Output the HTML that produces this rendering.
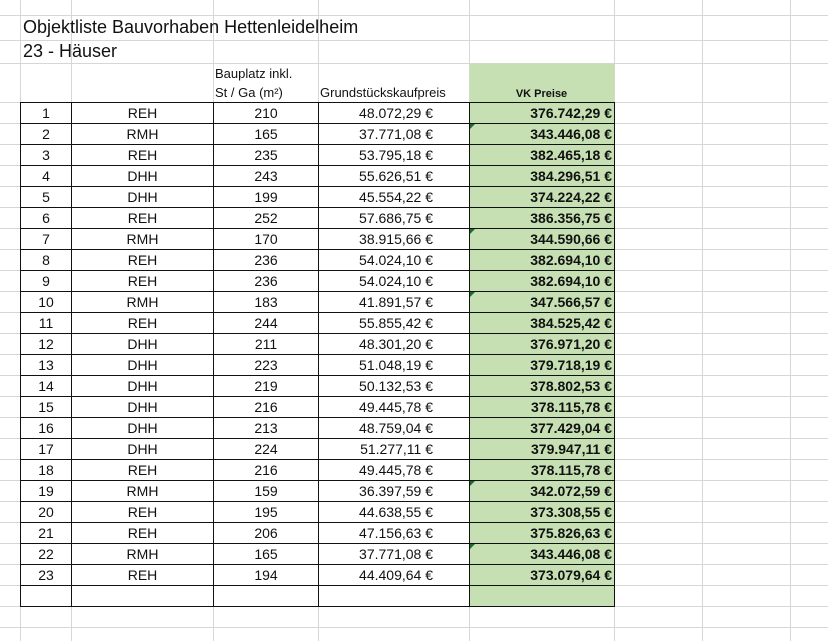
<!DOCTYPE html>
<html><head><meta charset="utf-8"><style>
html,body{margin:0;padding:0;width:828px;height:641px;overflow:hidden;background:#fff;font-family:"Liberation Sans",Arial,sans-serif;color:#111}
svg.grid{position:absolute;left:0;top:0}
.t{position:absolute;white-space:nowrap}
table{position:absolute;left:20px;top:102px;border-collapse:collapse;table-layout:fixed;font-size:14px}
td{border:1px solid #111;height:20px;padding:0;line-height:20px;overflow:hidden;white-space:nowrap}
td.c{text-align:center}
td.r{text-align:right;padding-right:36px}
td.v{text-align:right;padding-right:2px;background:#c6e0b4;font-weight:bold;position:relative}
td.v.m::before{content:"";position:absolute;left:0;top:0;border-top:5px solid #1d6b2e;border-right:5px solid transparent}
</style></head><body>
<svg class="grid" width="828" height="641">
<g stroke="#d6d6d6" stroke-width="1">
<line x1="0" y1="15.5" x2="828" y2="15.5"/><line x1="0" y1="40.5" x2="828" y2="40.5"/><line x1="0" y1="63.5" x2="828" y2="63.5"/>
<line x1="0" y1="627.5" x2="828" y2="627.5"/>
<line x1="20.5" y1="0" x2="20.5" y2="641"/><line x1="71.5" y1="0" x2="71.5" y2="641"/><line x1="213.5" y1="0" x2="213.5" y2="641"/><line x1="318.5" y1="0" x2="318.5" y2="641"/><line x1="469.5" y1="0" x2="469.5" y2="641"/><line x1="614.5" y1="0" x2="614.5" y2="641"/><line x1="702.5" y1="0" x2="702.5" y2="641"/><line x1="790.5" y1="0" x2="790.5" y2="641"/>
</g>
<g stroke="#d6d6d6">
<line x1="0" y1="102.5" x2="828" y2="102.5"/><line x1="0" y1="123.5" x2="828" y2="123.5"/><line x1="0" y1="144.5" x2="828" y2="144.5"/><line x1="0" y1="165.5" x2="828" y2="165.5"/><line x1="0" y1="186.5" x2="828" y2="186.5"/><line x1="0" y1="207.5" x2="828" y2="207.5"/><line x1="0" y1="228.5" x2="828" y2="228.5"/><line x1="0" y1="249.5" x2="828" y2="249.5"/><line x1="0" y1="270.5" x2="828" y2="270.5"/><line x1="0" y1="291.5" x2="828" y2="291.5"/><line x1="0" y1="312.5" x2="828" y2="312.5"/><line x1="0" y1="333.5" x2="828" y2="333.5"/><line x1="0" y1="354.5" x2="828" y2="354.5"/><line x1="0" y1="375.5" x2="828" y2="375.5"/><line x1="0" y1="396.5" x2="828" y2="396.5"/><line x1="0" y1="417.5" x2="828" y2="417.5"/><line x1="0" y1="438.5" x2="828" y2="438.5"/><line x1="0" y1="459.5" x2="828" y2="459.5"/><line x1="0" y1="480.5" x2="828" y2="480.5"/><line x1="0" y1="501.5" x2="828" y2="501.5"/><line x1="0" y1="522.5" x2="828" y2="522.5"/><line x1="0" y1="543.5" x2="828" y2="543.5"/><line x1="0" y1="564.5" x2="828" y2="564.5"/><line x1="0" y1="585.5" x2="828" y2="585.5"/><line x1="0" y1="606.5" x2="828" y2="606.5"/>
</g>
<rect x="469.5" y="63.5" width="145" height="39" fill="#c6e0b4"/>
</svg>
<div class="t" style="left:23px;top:17px;font-size:18px">Objektliste Bauvorhaben Hettenleidelheim</div>
<div class="t" style="left:23px;top:41px;font-size:18px">23 - Häuser</div>
<div class="t" style="left:215px;top:66px;font-size:13px">Bauplatz inkl.</div>
<div class="t" style="left:215px;top:85px;font-size:13px">St / Ga (m²)</div>
<div class="t" style="left:320px;top:85px;font-size:13px">Grundstückskaufpreis</div>
<div class="t" style="left:469px;width:145px;text-align:center;top:88px;font-size:11px;font-weight:bold">VK Preise</div>
<table>
<colgroup><col style="width:51px"><col style="width:142px"><col style="width:105px"><col style="width:151px"><col style="width:145px"></colgroup>
<tr><td class="c">1</td><td class="c">REH</td><td class="c">210</td><td class="r">48.072,29 €</td><td class="v">376.742,29 €</td></tr>
<tr><td class="c">2</td><td class="c">RMH</td><td class="c">165</td><td class="r">37.771,08 €</td><td class="v m">343.446,08 €</td></tr>
<tr><td class="c">3</td><td class="c">REH</td><td class="c">235</td><td class="r">53.795,18 €</td><td class="v">382.465,18 €</td></tr>
<tr><td class="c">4</td><td class="c">DHH</td><td class="c">243</td><td class="r">55.626,51 €</td><td class="v">384.296,51 €</td></tr>
<tr><td class="c">5</td><td class="c">DHH</td><td class="c">199</td><td class="r">45.554,22 €</td><td class="v">374.224,22 €</td></tr>
<tr><td class="c">6</td><td class="c">REH</td><td class="c">252</td><td class="r">57.686,75 €</td><td class="v">386.356,75 €</td></tr>
<tr><td class="c">7</td><td class="c">RMH</td><td class="c">170</td><td class="r">38.915,66 €</td><td class="v m">344.590,66 €</td></tr>
<tr><td class="c">8</td><td class="c">REH</td><td class="c">236</td><td class="r">54.024,10 €</td><td class="v">382.694,10 €</td></tr>
<tr><td class="c">9</td><td class="c">REH</td><td class="c">236</td><td class="r">54.024,10 €</td><td class="v">382.694,10 €</td></tr>
<tr><td class="c">10</td><td class="c">RMH</td><td class="c">183</td><td class="r">41.891,57 €</td><td class="v m">347.566,57 €</td></tr>
<tr><td class="c">11</td><td class="c">REH</td><td class="c">244</td><td class="r">55.855,42 €</td><td class="v">384.525,42 €</td></tr>
<tr><td class="c">12</td><td class="c">DHH</td><td class="c">211</td><td class="r">48.301,20 €</td><td class="v">376.971,20 €</td></tr>
<tr><td class="c">13</td><td class="c">DHH</td><td class="c">223</td><td class="r">51.048,19 €</td><td class="v">379.718,19 €</td></tr>
<tr><td class="c">14</td><td class="c">DHH</td><td class="c">219</td><td class="r">50.132,53 €</td><td class="v">378.802,53 €</td></tr>
<tr><td class="c">15</td><td class="c">DHH</td><td class="c">216</td><td class="r">49.445,78 €</td><td class="v">378.115,78 €</td></tr>
<tr><td class="c">16</td><td class="c">DHH</td><td class="c">213</td><td class="r">48.759,04 €</td><td class="v">377.429,04 €</td></tr>
<tr><td class="c">17</td><td class="c">DHH</td><td class="c">224</td><td class="r">51.277,11 €</td><td class="v">379.947,11 €</td></tr>
<tr><td class="c">18</td><td class="c">REH</td><td class="c">216</td><td class="r">49.445,78 €</td><td class="v">378.115,78 €</td></tr>
<tr><td class="c">19</td><td class="c">RMH</td><td class="c">159</td><td class="r">36.397,59 €</td><td class="v m">342.072,59 €</td></tr>
<tr><td class="c">20</td><td class="c">REH</td><td class="c">195</td><td class="r">44.638,55 €</td><td class="v">373.308,55 €</td></tr>
<tr><td class="c">21</td><td class="c">REH</td><td class="c">206</td><td class="r">47.156,63 €</td><td class="v">375.826,63 €</td></tr>
<tr><td class="c">22</td><td class="c">RMH</td><td class="c">165</td><td class="r">37.771,08 €</td><td class="v m">343.446,08 €</td></tr>
<tr><td class="c">23</td><td class="c">REH</td><td class="c">194</td><td class="r">44.409,64 €</td><td class="v">373.079,64 €</td></tr>
<tr><td></td><td></td><td></td><td></td><td class="v"></td></tr>
</table>
</body></html>
